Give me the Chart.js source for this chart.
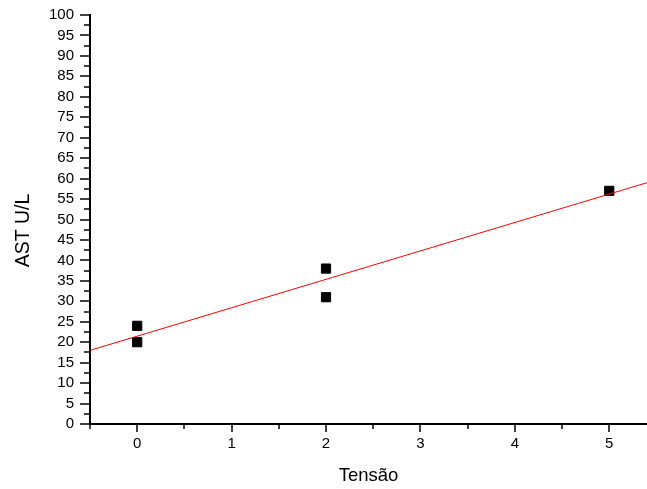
<!DOCTYPE html>
<html>
<head>
<meta charset="utf-8">
<script src="https://cdn.jsdelivr.net/npm/chart.js@4/dist/chart.umd.min.js"></script>
<style>
  html, body { margin: 0; padding: 0; background: #fff; }
  #wrap { width: 647px; height: 489px; }
</style>
</head>
<body>
<div id="wrap"><canvas id="c" width="647" height="489"></canvas></div>
<script>
// Data
const tensao = [0, 0, 2, 2, 5];
const ast = [24, 20, 38, 31, 57];
const fitX = [-0.5, 5.4];
const fitY = [18, 59];
const xTitle = 'Tensão';
const yTitle = 'AST U/L';
const xMin = -0.5, xMax = 5.4, yMin = 0, yMax = 100;

const FONT = "'Liberation Sans', Arial, sans-serif";

const tickMarks = {
  id: 'tickMarks',
  afterDraw(chart) {
    const ctx = chart.ctx;
    const xs = chart.scales.x, ys = chart.scales.y;
    ctx.save();
    ctx.strokeStyle = '#000';
    ctx.lineWidth = 1.5;
    ys.ticks.forEach(t => {
      const py = Math.round(ys.getPixelForValue(t.value));
      const major = Math.abs(t.value % 5) < 1e-9;
      const len = major ? 10 : 6;
      ctx.beginPath();
      ctx.moveTo(ys.right, py);
      ctx.lineTo(ys.right - len, py);
      ctx.stroke();
    });
    xs.ticks.forEach(t => {
      const px = Math.round(xs.getPixelForValue(t.value));
      const major = Math.abs(t.value - Math.round(t.value)) < 1e-9;
      const len = major ? 8 : 5;
      ctx.beginPath();
      ctx.moveTo(px, xs.top);
      ctx.lineTo(px, xs.top + len);
      ctx.stroke();
    });
    // y axis title
    ctx.fillStyle = '#000';
    ctx.font = "19.5px " + FONT;
    ctx.textAlign = 'center';
    ctx.textBaseline = 'middle';
    ctx.translate(24, 230.5);
    ctx.rotate(-Math.PI / 2);
    ctx.fillText(yTitle, 0, 0);
    ctx.restore();
  }
};

new Chart(document.getElementById('c'), {
  type: 'scatter',
  data: {
    datasets: [
      {
        label: 'fit',
        data: fitX.map((x, i) => ({ x: x, y: fitY[i] })),
        showLine: true,
        borderColor: '#ff0000',
        borderWidth: 1,
        pointRadius: 0,
        fill: false,
        order: 0
      },
      {
        label: 'AST',
        data: tensao.map((x, i) => ({ x: x, y: ast[i] })),
        pointStyle: 'rect',
        pointRadius: 6.5,
        pointHoverRadius: 6.5,
        backgroundColor: '#000',
        borderColor: '#000',
        borderWidth: 1,
        order: 1
      }
    ]
  },
  options: {
    responsive: false,
    animation: false,
    events: [],
    layout: { autoPadding: false, padding: { top: 15, right: 0, left: 0, bottom: 0 } },
    plugins: { legend: { display: false }, tooltip: { enabled: false } },
    scales: {
      x: {
        type: 'linear',
        min: xMin, max: xMax,
        afterFit(s) { s.height = 65; s.paddingRight = 0; s.paddingLeft = 0; },
        ticks: {
          stepSize: 0.5,
          includeBounds: false,
          autoSkip: false,
          maxRotation: 0,
          padding: 4,
          color: '#000',
          font: { family: FONT, size: 15 },
          callback: v => (Math.abs(v - Math.round(v)) < 1e-9 ? String(Math.round(v)) : '')
        },
        grid: { display: true, drawOnChartArea: false, drawTicks: true, tickLength: 7, tickColor: 'rgba(0,0,0,0)' },
        border: { display: true, color: '#000', width: 2 },
        title: { display: true, text: xTitle, color: '#000', font: { family: FONT, size: 18.5 }, padding: { top: 0, bottom: 2 } }
      },
      y: {
        type: 'linear',
        min: yMin, max: yMax,
        afterFit(s) { s.width = 90; },
        ticks: {
          stepSize: 2.5,
          autoSkip: false,
          padding: 6,
          color: '#000',
          font: { family: FONT, size: 15 },
          callback: v => (Math.abs(v % 5) < 1e-9 ? String(v) : '')
        },
        grid: { display: true, drawOnChartArea: false, drawTicks: true, tickLength: 10, tickColor: 'rgba(0,0,0,0)' },
        border: { display: true, color: '#000', width: 2 }
      }
    }
  },
  plugins: [tickMarks]
});
</script>
</body>
</html>
